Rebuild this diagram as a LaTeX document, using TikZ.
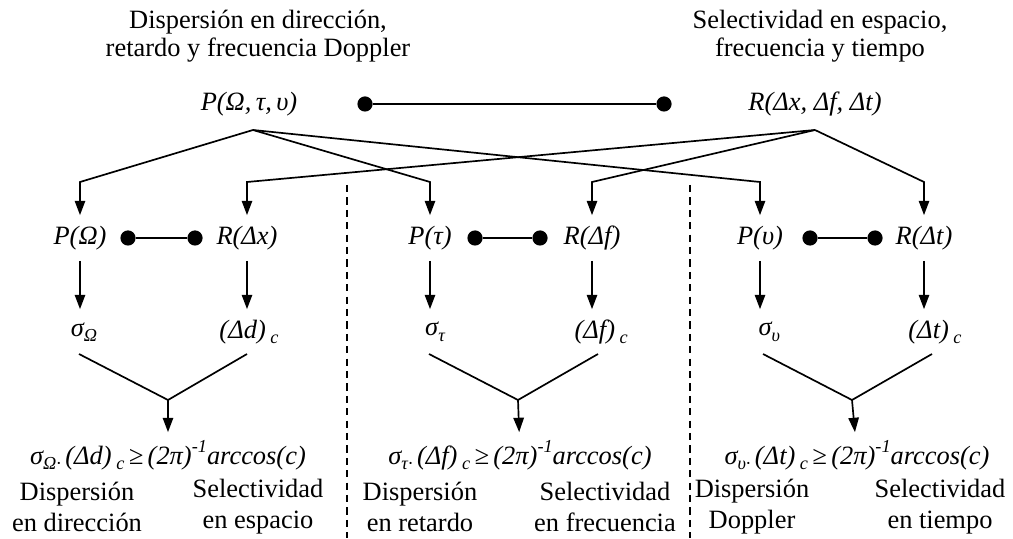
\documentclass[tikz,border=0pt]{standalone}
\usepackage{fontspec}
\setmainfont{Liberation Serif}
\usetikzlibrary{arrows.meta}
\newcommand{\lo}[1]{\raisebox{-0.45ex}{\fontsize{13}{13}\selectfont #1}}
\newcommand{\hi}[1]{\raisebox{1.0ex}{\fontsize{13}{13}\selectfont #1}}
\begin{document}
\begin{tikzpicture}[x=1cm,y=1cm,line width=1.2pt,
  lbl/.style={minimum height=1.1cm,inner sep=0pt,font=\fontsize{18.8}{20}\selectfont\itshape},
  txt/.style={align=center,inner sep=0pt,font=\fontsize{18.8}{22}\selectfont},
  dot/.style={circle,fill,inner sep=0pt,minimum size=0.38cm},
  arr/.style={-{Triangle[length=0.36cm,width=0.26cm]}},
  dsh/.style={line width=0.8pt,dash pattern=on 0.18cm off 0.13cm}]
\useasboundingbox (0,0) rectangle (25.325,13.45);

% headings
\node[txt,font=\fontsize{18.8}{20}\selectfont] (hP) at (6.45,12.55) {Dispersión en dirección,\\retardo y frecuencia Doppler};
\node[txt,font=\fontsize{18.8}{20}\selectfont] (hR) at (20.5,12.55) {Selectividad en espacio,\\frecuencia y tiempo};

% joint functions
\node[lbl] (Pall) at (6.225,10.85) {P(Ω,\,τ,\,υ)};
\node[lbl] (Rall) at (20.375,10.85) {R(Δx, Δf, Δt)};
\node[dot] (d1) at (9.125,10.85) {};
\node[dot] (d2) at (16.6,10.85) {};
\draw (d1) -- (d2);
\coordinate (pfan) at (6.325,10.2);
\coordinate (rfan) at (20.375,10.2);

% marginals
\node[lbl] (PO) at (2.0,7.5) {P(Ω)};
\node[lbl] (RX) at (6.175,7.5) {R(Δx)};
\node[lbl] (Pt) at (10.75,7.5) {P(τ)};
\node[lbl] (Rf) at (14.8,7.5) {R(Δf)};
\node[lbl] (Pu) at (19.0,7.5) {P(υ)};
\node[lbl] (Rt) at (23.1,7.5) {R(Δt)};
\node[dot] (e1) at (3.2,7.5) {};
\node[dot] (e2) at (4.875,7.5) {};
\node[dot] (e3) at (11.875,7.5) {};
\node[dot] (e4) at (13.5,7.5) {};
\node[dot] (e5) at (20.25,7.5) {};
\node[dot] (e6) at (21.875,7.5) {};
\draw (e1) -- (e2);
\draw (e3) -- (e4);
\draw (e5) -- (e6);

\draw[arr] (pfan) -- (2.0,8.9) -- (PO);
\draw[arr] (pfan) -- (10.75,8.9) -- (Pt);
\draw[arr] (pfan) -- (19.0,8.9) -- (Pu);
\draw[arr] (rfan) -- (6.175,8.9) -- (RX);
\draw[arr] (rfan) -- (14.8,8.9) -- (Rf);
\draw[arr] (rfan) -- (23.1,8.9) -- (Rt);

% spreads and coherence widths
\node[lbl] (sO) at (2.1,5.15) {σ\lo{Ω}};
\node[lbl] (Dd) at (6.225,5.15) {(Δd)\lo{ c}};
\node[lbl] (st) at (10.875,5.15) {σ\lo{τ}};
\node[lbl] (Df) at (15.03,5.15) {(Δf)\lo{ c}};
\node[lbl] (su) at (19.23,5.15) {σ\lo{υ}};
\node[lbl] (Dt) at (23.375,5.15) {(Δt)\lo{ c}};
\draw[arr] (PO) -- (PO |- sO.north);
\draw[arr] (RX) -- (RX |- Dd.north);
\draw[arr] (Pt) -- (Pt |- st.north);
\draw[arr] (Rf) -- (Rf |- Df.north);
\draw[arr] (Pu) -- (Pu |- su.north);
\draw[arr] (Rt) -- (Rt |- Dt.north);

% uncertainty relations
\coordinate (v1) at (4.2,3.45);
\coordinate (v2) at (12.95,3.45);
\coordinate (v3) at (21.3,3.45);
\node[lbl] (f1) at (4.2,2.075) {σ\lo{Ω·}\,(Δd)\lo{ c}\,≥\,(2π)\hi{-1}arccos(c)};
\node[lbl] (f2) at (13.0,2.075) {σ\lo{τ·}\,(Δf)\lo{ c}\,≥\,(2π)\hi{-1}arccos(c)};
\node[lbl] (f3) at (21.425,2.075) {σ\lo{υ·}\,(Δt)\lo{ c}\,≥\,(2π)\hi{-1}arccos(c)};
\draw (1.975,4.6) -- (v1) -- (6.175,4.6);
\draw (10.725,4.6) -- (v2) -- (14.95,4.6);
\draw (19.075,4.6) -- (v3) -- (23.3,4.6);
\draw[arr] (v1) -- (f1);
\draw[arr] (v2) -- (f2);
\draw[arr] (v3) -- (f3);

\node[txt] (b1) at (1.925,0.775) {Dispersión\\en dirección};
\node[txt] (b2) at (6.45,0.775) {Selectividad\\en espacio};
\node[txt] (b3) at (10.5,0.775) {Dispersión\\en retardo};
\node[txt] (b4) at (15.125,0.775) {Selectividad\\en frecuencia};
\node[txt] (b5) at (18.8,0.775) {Dispersión\\Doppler};
\node[txt] (b6) at (23.5,0.775) {Selectividad\\en tiempo};

% separators
\draw[dsh] (8.675,8.825) -- (8.675,0);
\draw[dsh] (17.25,8.825) -- (17.25,0);
\end{tikzpicture}
\end{document}
